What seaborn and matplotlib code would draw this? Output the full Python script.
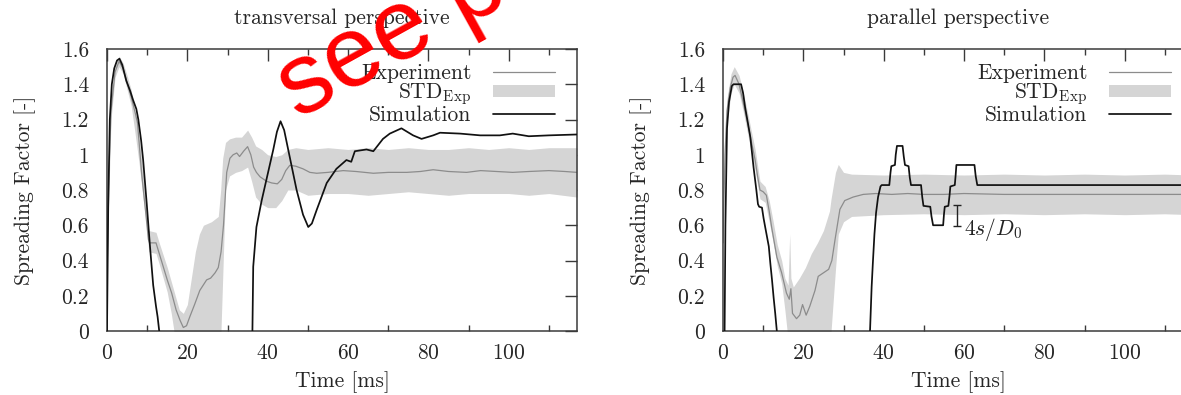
import numpy as np
import matplotlib
matplotlib.use("Agg")
import matplotlib.pyplot as plt
from matplotlib.ticker import MultipleLocator, FuncFormatter
import seaborn as sns

# ---------------- data ----------------
# transversal perspective: experiment mean
tr_exp_t = [0, 0.5, 1, 2, 3, 4, 5, 6, 7, 7.6, 8.6, 9.6, 10.3, 10.6, 12.2, 13, 14, 15, 16.1,
            17.2, 18.2, 19, 19.8, 20.6, 21.8, 23.1, 24.8, 25.8, 26.9, 27.7, 28.4, 29, 29.8,
            30.6, 31.4, 32.3, 33, 34, 35, 35.8, 36.5, 37.2, 38.1, 39.7, 41, 42.4, 43.5, 44.5,
            45.5, 47, 48.8, 50.5, 52.2, 55, 58.8, 62, 66.3, 70, 74.6, 78, 81.2, 85, 89.5, 93,
            97, 101, 105, 110, 114, 117]
tr_exp_v = [0.3, 0.9, 1.25, 1.47, 1.53, 1.49, 1.41, 1.33, 1.24, 1.18, 0.9, 0.68, 0.52, 0.50,
            0.50, 0.44, 0.365, 0.29, 0.215, 0.12, 0.06, 0.02, 0.03, 0.08, 0.15, 0.23, 0.29,
            0.30, 0.33, 0.36, 0.45, 0.60, 0.90, 0.98, 1.0, 1.01, 0.99, 1.02, 1.046, 1.0, 0.93,
            0.90, 0.875, 0.85, 0.84, 0.835, 0.86, 0.91, 0.94, 0.935, 0.92, 0.90, 0.895, 0.90,
            0.91, 0.905, 0.895, 0.90, 0.90, 0.905, 0.915, 0.905, 0.90, 0.91, 0.905, 0.90,
            0.905, 0.91, 0.905, 0.90]
# transversal perspective: experiment standard deviation band (lower / upper edge)
tr_std_t = [0.5, 1, 2, 3, 4, 5, 6, 7, 8, 9, 9.8, 10.4, 12.2, 13, 14, 15, 16, 17, 18, 19, 20,
            21, 22, 23, 24, 26, 27.7, 28.3, 28.8, 29.5, 30.5, 32, 33.5, 35, 36, 37, 38.5, 40,
            42, 43.5, 45, 47, 50, 55, 60, 65, 70, 75, 80, 85, 90, 95, 100, 105, 110, 117]
tr_std_lo = [0.8, 1.2, 1.44, 1.50, 1.46, 1.37, 1.28, 1.12, 0.95, 0.75, 0.6, 0.45, 0.44, 0.38,
             0.30, 0.22, 0.10, -0.05, -0.05, -0.05, -0.05, -0.05, -0.05, -0.05, -0.05, -0.05,
             -0.05, -0.05, 0.3, 0.8, 0.88, 0.90, 0.91, 0.93, 0.85, 0.76, 0.72, 0.70, 0.70,
             0.74, 0.80, 0.80, 0.77, 0.78, 0.78, 0.77, 0.78, 0.79, 0.78, 0.77, 0.78, 0.78,
             0.78, 0.77, 0.78, 0.76]
tr_std_hi = [1.0, 1.3, 1.50, 1.56, 1.52, 1.45, 1.37, 1.23, 1.1, 0.9, 0.7, 0.57, 0.56, 0.50,
             0.43, 0.36, 0.28, 0.2, 0.12, 0.10, 0.15, 0.3, 0.45, 0.55, 0.60, 0.62, 0.65, 0.8,
             0.98, 1.07, 1.09, 1.10, 1.10, 1.14, 1.10, 1.05, 1.03, 1.0, 0.99, 1.0, 1.03, 1.04,
             1.03, 1.04, 1.03, 1.04, 1.03, 1.04, 1.03, 1.03, 1.04, 1.03, 1.04, 1.03, 1.04, 1.04]
# transversal perspective: simulation (two branches, the droplet detaches in between)
tr_sim_t1 = [0, 0.3, 0.7, 1.2, 1.8, 2.5, 3.1, 3.8, 4.8, 5.8, 6.5, 7.3, 7.8, 8.5, 9.0, 9.9,
             10.7, 11.5, 12.2, 12.6, 13.0]
tr_sim_v1 = [0, 0.7, 1.2, 1.40, 1.49, 1.535, 1.545, 1.51, 1.42, 1.36, 1.31, 1.26, 1.20, 1.08,
             0.97, 0.72, 0.48, 0.26, 0.14, 0.08, 0.0]
tr_sim_t2 = [36.2, 36.4, 37.2, 38.5, 39.7, 41.4, 42.3, 43.2, 44.1, 45.1, 47.2, 48.8, 50.1,
             51.0, 52.2, 54.7, 57.1, 59.6, 60.8, 61.7, 64.6, 66.3, 68.7, 70.4, 73.3, 76.2,
             78.3, 81.2, 82.9, 87.9, 92.9, 97.8, 101, 105, 110, 117]
tr_sim_v2 = [0.0, 0.365, 0.59, 0.74, 0.86, 1.03, 1.13, 1.19, 1.14, 1.03, 0.80, 0.66, 0.59,
             0.61, 0.687, 0.84, 0.92, 0.97, 0.96, 1.02, 1.03, 1.02, 1.09, 1.12, 1.15, 1.11,
             1.09, 1.11, 1.125, 1.12, 1.11, 1.11, 1.12, 1.105, 1.11, 1.115]

# parallel perspective: experiment mean
pa_exp_t = [0, 0.5, 1, 1.8, 2.5, 3, 4, 5, 6.3, 7, 8, 8.6, 9.2, 10, 10.8, 11.5, 12.1, 13.4,
            14.6, 15.8, 16.5, 16.9, 17.3, 18.3, 19.1, 19.8, 20.7, 21.6, 22.9, 23.7, 25, 26.3,
            27.1, 27.9, 29.1, 30.3, 32.4, 34.9, 38, 42, 46, 50, 55, 60, 70, 80, 90, 100,
            110, 117]
pa_exp_v = [0.5, 1.0, 1.25, 1.38, 1.44, 1.45, 1.40, 1.30, 1.16, 1.08, 0.97, 0.88, 0.80, 0.79,
            0.77, 0.68, 0.59, 0.42, 0.33, 0.215, 0.18, 0.24, 0.10, 0.07, 0.09, 0.15, 0.09,
            0.14, 0.23, 0.31, 0.33, 0.35, 0.40, 0.52, 0.69, 0.74, 0.76, 0.775, 0.78, 0.775,
            0.78, 0.775, 0.775, 0.78, 0.775, 0.775, 0.775, 0.775, 0.775, 0.775]
# parallel perspective: experiment standard deviation band (lower / upper edge)
pa_std_t = [0.5, 1, 2, 2.8, 4, 5, 6.3, 7, 8, 9.2, 10.5, 11.5, 12.5, 13.5, 14.6, 15.4, 16.2,
            16.6, 16.9, 17.5, 19, 20.5, 22, 23.5, 25, 26.5, 26.9, 28, 28.7, 30, 32, 40, 50,
            60, 70, 80, 90, 100, 110, 117]
pa_std_lo = [0.9, 1.18, 1.35, 1.40, 1.35, 1.25, 1.10, 1.02, 0.91, 0.75, 0.73, 0.62, 0.50,
             0.37, 0.27, 0.12, -0.05, -0.05, -0.05, -0.05, -0.05, -0.05, -0.05, -0.05, -0.05,
             -0.05, 0.0, 0.35, 0.55, 0.62, 0.65, 0.66, 0.665, 0.66, 0.665, 0.66, 0.665, 0.66,
             0.665, 0.66]
pa_std_hi = [1.1, 1.32, 1.46, 1.50, 1.45, 1.36, 1.22, 1.14, 1.03, 0.85, 0.82, 0.74, 0.62,
             0.49, 0.40, 0.30, 0.26, 0.55, 0.30, 0.25, 0.30, 0.36, 0.44, 0.50, 0.57, 0.68,
             0.75, 0.90, 0.945, 0.90, 0.89, 0.885, 0.89, 0.885, 0.89, 0.885, 0.89, 0.885,
             0.89, 0.885]
# parallel perspective: simulation (stepwise, resolution-limited)
pa_sim_t1 = [0.4, 0.6, 1.0, 1.5, 2.2, 2.6, 4.5, 5.0, 5.5, 6.2, 6.8, 7.6, 8.3, 8.7, 9.0, 9.7,
             10.1, 10.5, 11.4, 11.8, 12.2, 12.6, 13.0, 13.4]
pa_sim_v1 = [0.0, 0.6, 1.15, 1.30, 1.39, 1.40, 1.40, 1.35, 1.27, 1.18, 1.10, 0.93, 0.80,
             0.72, 0.705, 0.70, 0.64, 0.59, 0.48, 0.38, 0.29, 0.19, 0.10, 0.0]
pa_sim_t2 = [36.6, 37.0, 37.3, 37.7, 38.1, 38.6, 39.2, 39.5, 41.4, 41.7, 41.9, 42.8, 43.0,
             43.3, 44.7, 45.0, 45.3, 46.2, 46.5, 46.8, 49.3, 49.6, 49.9, 51.6, 51.9, 52.3,
             54.8, 55.0, 55.2, 56.1, 56.4, 56.6, 57.7, 57.9, 58.1, 62.6, 62.9, 63.3, 117]
pa_sim_v2 = [0.0, 0.25, 0.384, 0.55, 0.67, 0.76, 0.82, 0.828, 0.828, 0.90, 0.935, 0.942,
             1.0, 1.05, 1.05, 0.99, 0.942, 0.935, 0.87, 0.828, 0.828, 0.76, 0.71, 0.705,
             0.65, 0.60, 0.60, 0.66, 0.705, 0.71, 0.77, 0.82, 0.828, 0.88, 0.942, 0.942,
             0.88, 0.828, 0.828]

# grid resolution marker (one cell = 4s/D0)
res_t = 58.3
res_lo, res_hi = 0.598, 0.713

panel_titles = ["transversal perspective", "parallel perspective"]
legend_labels = ["Experiment", r"STD$_{\mathrm{Exp}}$", "Simulation"]
x_ticks = [0, 20, 40, 60, 80, 100]
y_ticks = [0, 0.2, 0.4, 0.6, 0.8, 1.0, 1.2, 1.4, 1.6]

# ---------------- style ----------------
sns.set_style("white")
plt.rcParams["font.family"] = ["cmr10", "DejaVu Serif"]
plt.rcParams["mathtext.fontset"] = "cm"
plt.rcParams["axes.unicode_minus"] = False
plt.rcParams["axes.formatter.use_mathtext"] = True

FS = 15.5
EXP_COLOR = "#8c8c8c"
BAND_COLOR = "#d5d5d5"
SIM_COLOR = "#111111"
FRAME = "#3a3a3a"

fig = plt.figure(figsize=(11.81, 3.95), dpi=100)
W, H = 1181, 395
ax_l = fig.add_axes([107 / W, (H - 331) / H, 470 / W, 282 / H])
ax_r = fig.add_axes([723 / W, (H - 331) / H, 470 / W, 282 / H])

panels = [
    (ax_l, tr_exp_t, tr_exp_v, tr_std_t, tr_std_lo, tr_std_hi,
     [(tr_sim_t1, tr_sim_v1), (tr_sim_t2, tr_sim_v2)]),
    (ax_r, pa_exp_t, pa_exp_v, pa_std_t, pa_std_lo, pa_std_hi,
     [(pa_sim_t1, pa_sim_v1), (pa_sim_t2, pa_sim_v2)]),
]

for i, (ax, et, ev, st, slo, shi, sims) in enumerate(panels):
    band = ax.fill_between(st, slo, shi, color=BAND_COLOR, lw=0, zorder=1)
    sns.lineplot(x=et, y=ev, ax=ax, color=EXP_COLOR, lw=0.9, sort=False,
                 estimator=None, zorder=2)
    exp_line = ax.lines[-1]
    for k, (tt, vv) in enumerate(sims):
        sns.lineplot(x=tt, y=vv, ax=ax, color=SIM_COLOR, lw=1.25, sort=False,
                     estimator=None, zorder=3)
    sim_line = ax.lines[-1]

    ax.set_xlim(0, 117)
    ax.set_ylim(0, 1.6)
    ax.set_xticks(x_ticks)
    ax.xaxis.set_minor_locator(MultipleLocator(10))
    ax.set_yticks(y_ticks)
    ax.yaxis.set_major_formatter(FuncFormatter(lambda v, _: f"{v:g}"))
    ax.tick_params(axis="both", which="major", direction="in", length=8.5, width=1.0,
                   color=FRAME, top=True, right=True, labelsize=FS)
    ax.tick_params(axis="x", which="major", pad=9)
    ax.tick_params(axis="y", which="major", pad=13)
    ax.tick_params(axis="x", which="minor", direction="in", length=4.3, width=1.0,
                   color=FRAME, top=True, bottom=True)
    for sp in ax.spines.values():
        sp.set_color(FRAME)
        sp.set_linewidth(1.1)
        sp.set_visible(True)

    ax.set_xlabel("Time [ms]", fontsize=FS, labelpad=6)
    ax.set_ylabel("Spreading Factor [-]", fontsize=FS, labelpad=18)
    ax.set_title(panel_titles[i], fontsize=FS, pad=18)

    leg = ax.legend([exp_line, band, sim_line], legend_labels, loc="upper right",
                    bbox_to_anchor=(1.0, 1.0 + 7 / 282), frameon=False,
                    markerfirst=False, fontsize=FS, handlelength=2.9,
                    handleheight=0.5, handletextpad=1.0, labelspacing=-0.08,
                    borderpad=0.5, borderaxespad=0.5)

# resolution marker with its label
ax_r.errorbar([res_t], [(res_lo + res_hi) / 2], yerr=[[(res_hi - res_lo) / 2]],
              fmt="none", ecolor="#222222", elinewidth=1.0, capsize=3, capthick=1.0,
              zorder=4)
ax_r.text(res_t + 1.6, res_lo - 0.02, r"$4s/D_0$", fontsize=FS, va="center",
          ha="left", color="#222222")

# red stamp across the top
fig.text(298 / W, 1 - 120 / H, "see paper", rotation=29, rotation_mode="anchor",
         ha="left", va="baseline", color="red", fontsize=72,
         family="Liberation Sans", zorder=10)

fig.savefig("out.png", dpi=100)
